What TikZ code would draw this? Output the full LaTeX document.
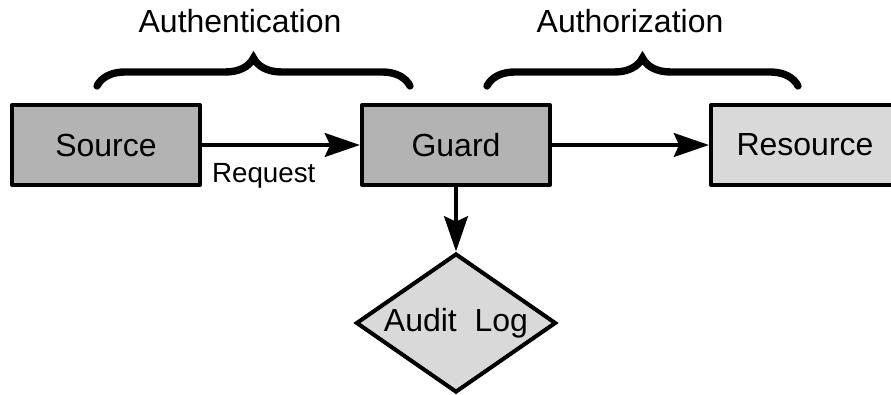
\documentclass[tikz,border=0pt]{standalone}
\usepackage{fontspec}
\setmainfont{Liberation Sans}
\usetikzlibrary{arrows.meta, shapes.geometric, positioning,
                decorations.pathreplacing, calc}
\definecolor{darkfill}{RGB}{179,179,179}
\definecolor{lightfill}{RGB}{217,217,217}

\begin{document}
\begin{tikzpicture}[
    >=Stealth, font=\fontsize{18.2}{22}\selectfont,
    dbox/.style={rectangle, draw=black, line width=2.3pt, line join=round,
                 fill=darkfill, minimum width=3.76cm, minimum height=1.6cm},
    lbox/.style={dbox, fill=lightfill},
    dec/.style={diamond, draw=black, line width=2.3pt, fill=lightfill,
                aspect=1.46, inner sep=0pt,
                minimum width=4.0cm, minimum height=2.78cm},
    a/.style={-{Stealth[length=20pt, width=13.5pt, inset=3pt]}, line width=2.3pt},
    br/.style={decorate, decoration={brace, amplitude=0.56cm},
               line width=4.2pt, line cap=round},
    lbl/.style={font=\fontsize{15.8}{19}\selectfont}
]
\path[use as bounding box, clip] (0,0) rectangle (17.82,7.88);

\node[dbox] (src) at ( 2.12, 4.98) {Source};
\node[dbox] (grd) at ( 9.12, 4.98) {Guard};
\node[lbox] (res) at (16.10, 4.98) {Resource};
\node[dec]  (aud) at ( 9.12, 1.42) {Audit~~Log};

% braces over the two stages
\draw[br] ($(src.north)+(-0.18,0.34)$) -- ($(grd.north)+(-0.92,0.34)$);
\draw[br] ($(grd.north)+( 0.62,0.34)$) -- ($(res.north)+(-0.14,0.34)$);
\node at ( 4.80, 7.45) {Authentication};
\node at (12.60, 7.45) {Authorization};

\draw[a] (src.east) -- (grd.west)
    node[pos=0, lbl, anchor=north west, inner sep=0pt,
         xshift=0.16cm, yshift=-0.32cm] {Request};
\draw[a] (grd.east) -- (res.west);
\draw[a] (grd.south) -- (aud.north);
\end{tikzpicture}
\end{document}
